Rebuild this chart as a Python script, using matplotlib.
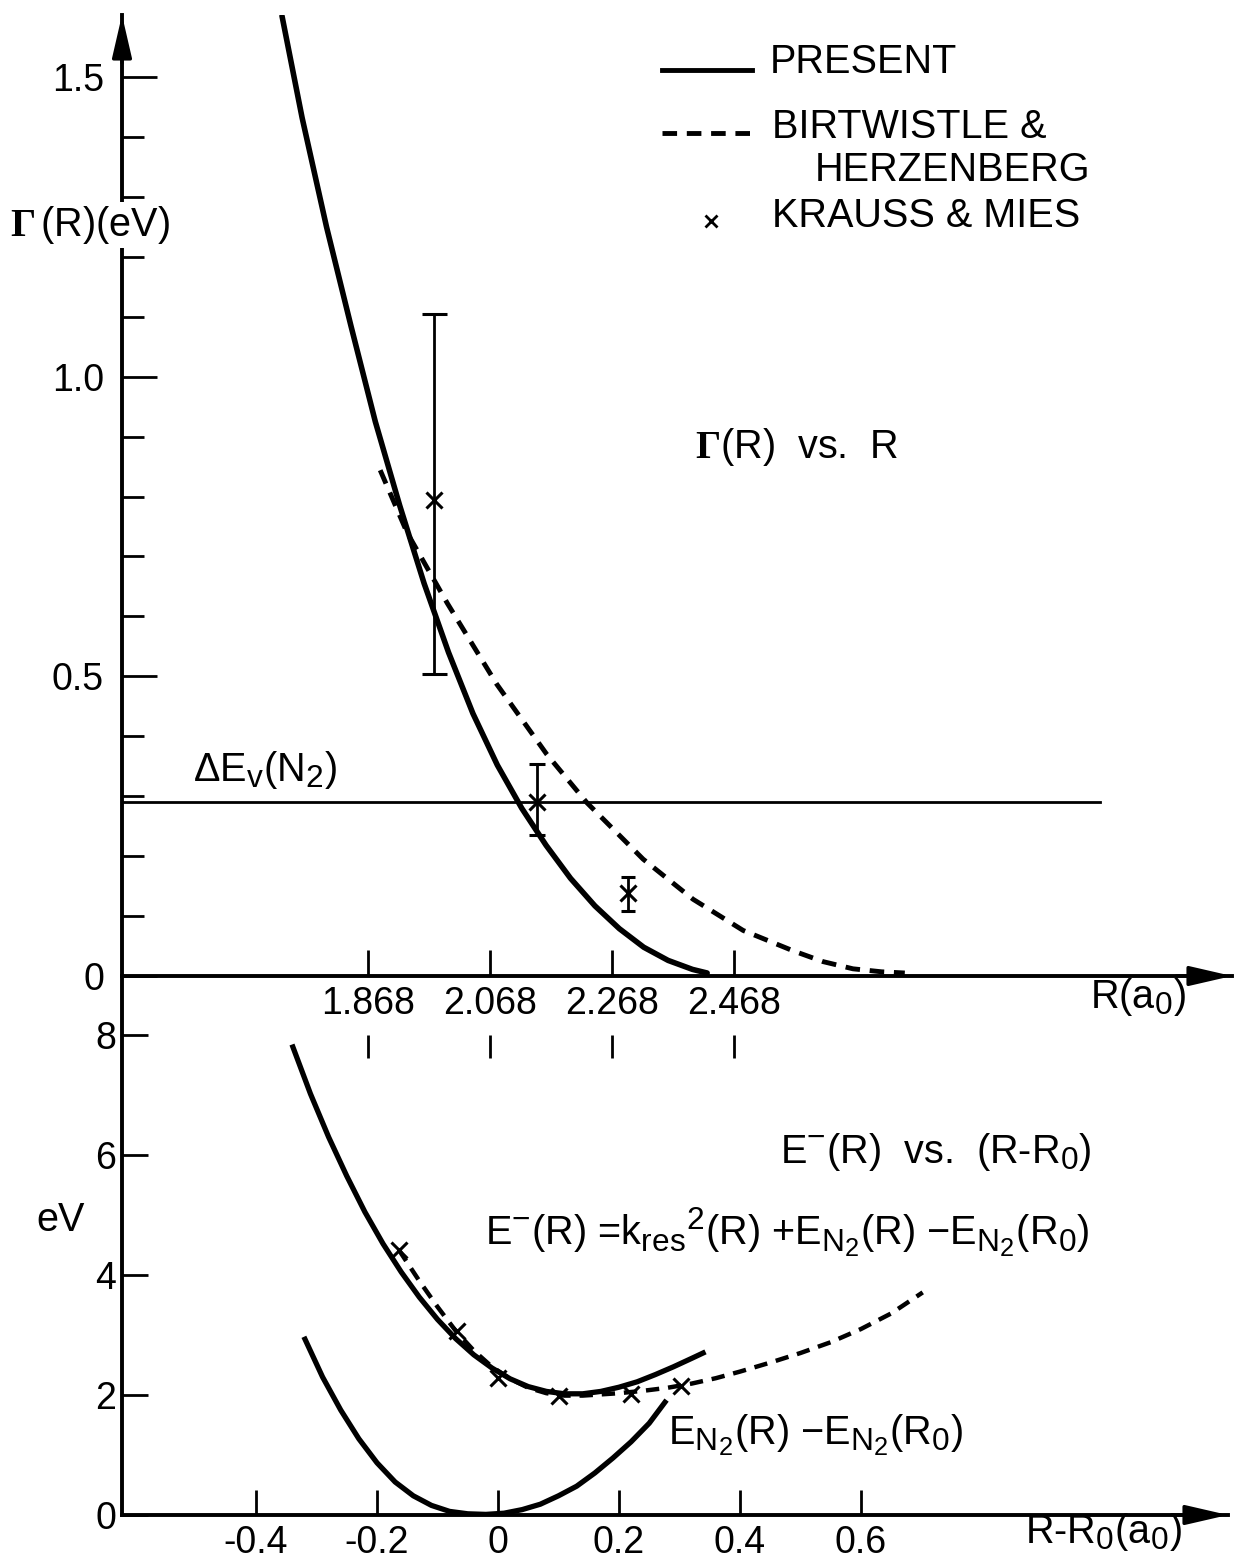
import matplotlib.pyplot as plt
import matplotlib._mathtext as mathtext_impl
import numpy as np
from matplotlib.lines import Line2D

plt.rcParams['font.family'] = ['Liberation Sans', 'DejaVu Sans']
plt.rcParams['mathtext.fontset'] = 'custom'
plt.rcParams['mathtext.rm'] = 'Liberation Sans'
plt.rcParams['mathtext.it'] = 'Liberation Sans:italic'
plt.rcParams['mathtext.bf'] = 'Liberation Serif:bold'
plt.rcParams['mathtext.default'] = 'regular'
plt.rcParams['axes.unicode_minus'] = False
# the original typesetting uses fairly large sub/superscripts
mathtext_impl.SHRINK_FACTOR = 0.8

R0 = 2.068

# Gamma(R) vs R (upper panel)
r_present = [1.727, 1.76, 1.80, 1.84, 1.88, 1.92, 1.96, 2.00, 2.04, 2.08,
             2.12, 2.16, 2.20, 2.24, 2.28, 2.32, 2.36, 2.40, 2.424]
g_present = [1.602, 1.432, 1.250, 1.085, 0.925, 0.785, 0.655, 0.540, 0.438,
             0.352, 0.280, 0.218, 0.163, 0.117, 0.079, 0.048, 0.026, 0.011,
             0.005]
r_bh = [1.888, 1.932, 1.998, 2.079, 2.161, 2.227, 2.319, 2.401, 2.483,
        2.565, 2.614, 2.663, 2.71, 2.748]
g_bh = [0.844, 0.740, 0.622, 0.487, 0.370, 0.289, 0.195, 0.128, 0.076,
        0.042, 0.024, 0.012, 0.007, 0.005]
r_km = [1.976, 2.145, 2.294]
g_km = [0.794, 0.291, 0.139]
g_km_hi = [1.105, 0.353, 0.166]
g_km_lo = [0.504, 0.236, 0.108]
delta_ev = 0.29

# E-(R) vs (R - R0) (lower panel)
dr_present = [-0.339, -0.31, -0.28, -0.25, -0.22, -0.19, -0.16, -0.13, -0.10,
              -0.07, -0.04, -0.01, 0.02, 0.05, 0.08, 0.11, 0.14, 0.17, 0.20,
              0.23, 0.26, 0.29, 0.32, 0.339]
e_present = [7.80, 7.02, 6.30, 5.65, 5.05, 4.52, 4.05, 3.63, 3.26, 2.94, 2.67,
             2.45, 2.27, 2.14, 2.06, 2.02, 2.02, 2.06, 2.13, 2.22, 2.34, 2.47,
             2.61, 2.70]
dr_bh = [-0.164, -0.13, -0.10, -0.07, -0.04, -0.01, 0.02, 0.05, 0.08, 0.11,
         0.14, 0.17, 0.20, 0.24, 0.28, 0.32, 0.36, 0.40, 0.45, 0.50, 0.55,
         0.60, 0.65, 0.702]
e_bh = [4.42, 3.90, 3.47, 3.07, 2.74, 2.47, 2.27, 2.12, 2.03, 1.99, 1.99, 2.01,
        2.03, 2.07, 2.12, 2.19, 2.28, 2.39, 2.54, 2.70, 2.88, 3.10, 3.36, 3.71]
dr_km = [-0.164, -0.068, 0.0, 0.101, 0.220, 0.302]
e_km = [4.42, 3.07, 2.29, 1.99, 2.02, 2.15]
dr_n2 = [-0.319, -0.29, -0.26, -0.23, -0.20, -0.17, -0.14, -0.11, -0.08,
         -0.05, -0.02, 0.01, 0.04, 0.07, 0.10, 0.13, 0.16, 0.19, 0.22, 0.25,
         0.276]
e_n2 = [2.93, 2.30, 1.75, 1.27, 0.87, 0.55, 0.32, 0.16, 0.06, 0.02, 0.01, 0.03,
        0.09, 0.18, 0.32, 0.48, 0.70, 0.95, 1.22, 1.53, 1.88]

g_ticks = [0, 0.5, 1.0, 1.5]
g_labels = ['0', '0.5', '1.0', '1.5']
r_ticks = [1.868, 2.068, 2.268, 2.468]
e_ticks = [0, 2, 4, 6, 8]
dr_ticks = [-0.4, -0.2, 0, 0.2, 0.4, 0.6]
dr_labels = ['-0.4', '-0.2', '0', '0.2', '0.4', '0.6']

W, H = 1238, 1560
fig = plt.figure(figsize=(W / 100, H / 100), dpi=100)


def fx(px):
    return px / W


def fy(py):
    return 1 - py / H


FS = 27     # tick labels
FT = 28.5   # annotations
LW_AX = 2.8

ax_up = fig.add_axes([fx(122), fy(976), fx(1232) - fx(122), fy(15) - fy(976)])
ax_lo = fig.add_axes([fx(122), fy(1515), fx(1228) - fx(122), fy(976) - fy(1515)])
ax_lo.set_facecolor('none')

for ax in (ax_up, ax_lo):
    for s in ('top', 'right'):
        ax.spines[s].set_visible(False)
    for s in ('left', 'bottom'):
        ax.spines[s].set_linewidth(LW_AX)

# ---- upper panel
ax_up.set_xlim(R0 - (490 - 122) / 610, R0 + (1232 - 490) / 610)
ax_up.set_ylim(0, (976 - 15) / 599.3)

ax_up.plot(r_present, g_present, color='k', lw=4, solid_capstyle='round')
ax_up.plot(r_bh, g_bh, color='k', lw=3.5, linestyle=(0, (3, 2)))
ax_up.axhline(delta_ev, xmin=0, xmax=(1100 - 122) / (1232 - 122), color='k', lw=2)

caps = [9, 6, 5]
for r, g, hi, lo, cs in zip(r_km, g_km, g_km_hi, g_km_lo, caps):
    ax_up.errorbar([r], [g], yerr=[[g - lo], [hi - g]], fmt='x', color='k',
                   ms=12, mew=2.2, elinewidth=2, capsize=cs, capthick=2)

ax_up.set_yticks(g_ticks, labels=g_labels)
ax_up.set_yticks(np.arange(0.1, 1.55, 0.1), minor=True)
ax_up.set_xticks(r_ticks, labels=[f'{r:.3f}' for r in r_ticks])
ax_up.tick_params(axis='y', which='major', direction='in', length=25, width=2,
                  labelsize=FS, pad=13)
ax_up.tick_params(axis='y', which='minor', direction='in', length=16, width=2)
ax_up.tick_params(axis='x', direction='in', length=19, width=2, labelsize=FS, pad=7)

# second row of R ticks below the labels
ax_up.vlines(r_ticks, -0.0614, -0.0853, transform=ax_up.get_xaxis_transform(),
             clip_on=False, color='k', lw=2)

arrow = dict(arrowstyle='-|>,head_length=1.3,head_width=0.3', lw=2.5, color='k',
             mutation_scale=20, shrinkA=0, shrinkB=0)
ax_up.annotate('', xy=(0, 1), xytext=(0, 0.95), xycoords='axes fraction',
               arrowprops=arrow)
ax_up.annotate('', xy=(1, 0), xytext=(0.95, 0), xycoords='axes fraction',
               arrowprops=arrow)

# ---- lower panel
ax_lo.set_xlim((122 - 498) / 605, (1228 - 498) / 605)
ax_lo.set_ylim(0, (1515 - 976) / 60)

ax_lo.plot(dr_present, e_present, color='k', lw=3.8)
ax_lo.plot(dr_bh, e_bh, color='k', lw=3.2, linestyle=(0, (3, 2)))
ax_lo.plot(dr_km, e_km, 'x', color='k', ms=12, mew=2.2)
ax_lo.plot(dr_n2, e_n2, color='k', lw=3.8)

ax_lo.set_yticks(e_ticks, labels=[str(e) for e in e_ticks])
ax_lo.set_xticks(dr_ticks, labels=dr_labels)
ax_lo.tick_params(axis='y', direction='in', length=19, width=2, labelsize=FS, pad=4)
ax_lo.tick_params(axis='x', direction='in', length=18, width=2, labelsize=FS, pad=7)
ax_lo.annotate('', xy=(1, 0), xytext=(0.95, 0), xycoords='axes fraction',
               arrowprops=arrow)

# ---- texts
fig.text(fx(10), fy(225), r'$\mathbf{\Gamma}\,$(R)(eV)', fontsize=FT, va='center',
         ha='left', bbox=dict(facecolor='white', edgecolor='none', pad=1))
fig.text(fx(695), fy(447), r'$\mathbf{\Gamma}$(R)  vs.  R', fontsize=FT, va='center')
fig.text(fx(193), fy(770), r'ΔE$_v$(N$_2$)', fontsize=FT, va='center')
fig.text(fx(1090), fy(997), r'R(a$_0$)', fontsize=FT, va='center')
fig.text(fx(36), fy(1220), 'eV', fontsize=FT, va='center')
fig.text(fx(780), fy(1152), r'E$^{-}$(R)  vs.  (R-R$_0$)', fontsize=FT, va='center')
fig.text(fx(485), fy(1232),
         r'E$^{-}$(R) =k$_{res}$$^{2}$(R) +E$_{N_2}$(R) $-$E$_{N_2}$(R$_0$)',
         fontsize=FT, va='center')
fig.text(fx(668), fy(1435), r'E$_{N_2}$(R) $-$E$_{N_2}$(R$_0$)', fontsize=FT,
         va='center')
fig.text(fx(1025), fy(1532), r'R-R$_0$(a$_0$)', fontsize=FT, va='center')

# legend
fig.add_artist(Line2D([fx(662), fx(752)], [fy(70), fy(70)], color='k', lw=3.5))
fig.add_artist(Line2D([fx(662), fx(752)], [fy(133), fy(133)], color='k', lw=3.5,
                      linestyle=(0, (3, 2))))
fig.add_artist(Line2D([fx(711)], [fy(221)], color='k', marker='x', ms=9, mew=2,
                      linestyle='none'))
fig.text(fx(770), fy(62), 'PRESENT', fontsize=FT, va='center')
fig.text(fx(772), fy(127), 'BIRTWISTLE &', fontsize=FT, va='center')
fig.text(fx(815), fy(170), 'HERZENBERG', fontsize=FT, va='center')
fig.text(fx(772), fy(216), 'KRAUSS & MIES', fontsize=FT, va='center')

fig.savefig('out.png', dpi=100)
